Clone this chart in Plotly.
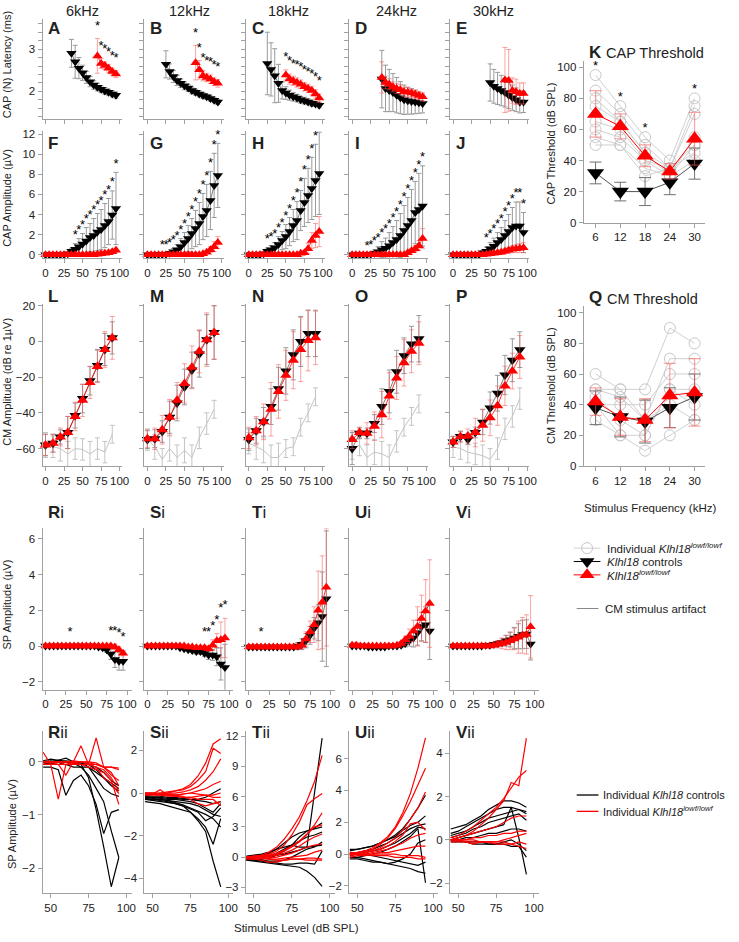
import plotly.graph_objects as go

W, H = 739, 942

# ---------------- data ----------------
LEVELS_5 = list(range(0, 100, 5))
LEVELS_10 = list(range(0, 100, 10))
LEVELS_IND = list(range(45, 100, 5))
FREQS = [6, 12, 18, 24, 30]
FREQ_LABELS = ["6kHz", "12kHz", "18kHz", "24kHz", "30kHz"]
LEVEL_TICKS = [0, 25, 50, 75, 100]
IND_TICKS = [50, 75, 100]
LAT_MAJOR = [2, 3]
LAT_MINOR = [1.4, 1.6, 1.8, 2.2, 2.4, 2.6, 2.8, 3.2, 3.4, 3.6]

# Row 1: CAP (N) latency, ms (each series ends at 95 dB, 5 dB steps)
LAT_CTRL = [
    [2.90, 2.70, 2.55, 2.44, 2.33, 2.23, 2.15, 2.10, 2.05, 2.01, 1.98, 1.94, 1.91],
    [2.64, 2.47, 2.35, 2.26, 2.19, 2.13, 2.08, 2.02, 1.98, 1.94, 1.90, 1.87, 1.83, 1.79, 1.75],
    [2.66, 2.52, 2.37, 2.19, 2.02, 1.96, 1.91, 1.87, 1.84, 1.80, 1.78, 1.75, 1.72, 1.70, 1.67],
    [2.29, 2.07, 2.02, 1.97, 1.91, 1.85, 1.80, 1.78, 1.76, 1.75, 1.73, 1.71],
    [2.21, 2.12, 2.07, 2.02, 1.97, 1.91, 1.85, 1.80, 1.75, 1.75],
]
LAT_CTRL_ERR = [
    [0.33, 0.39, 0.25, 0.18, 0.14, 0.12, 0.10, 0.09, 0.08, 0.08, 0.07, 0.07, 0.07],
    [0.32, 0.18, 0.14, 0.12, 0.10, 0.09, 0.08, 0.08, 0.07, 0.07, 0.07, 0.06, 0.06, 0.06, 0.06],
    [0.74, 0.63, 0.64, 0.45, 0.20, 0.15, 0.12, 0.10, 0.09, 0.08, 0.08, 0.07, 0.07, 0.06, 0.06],
    [0.68, 0.55, 0.50, 0.45, 0.42, 0.38, 0.35, 0.32, 0.30, 0.28, 0.25, 0.22],
    [0.44, 0.40, 0.38, 0.36, 0.34, 0.32, 0.30, 0.28, 0.26, 0.25],
]
LAT_LOWF = [
    [2.84, 2.66, 2.61, 2.55, 2.47, 2.41],
    [2.68, 2.51, 2.37, 2.33, 2.29, 2.23, 2.19],
    [2.39, 2.29, 2.25, 2.21, 2.17, 2.11, 2.07, 2.02, 1.94, 1.84],
    [2.33, 2.21, 2.17, 2.11, 2.07, 2.04, 1.99, 1.98, 1.96, 1.93, 1.90, 1.87],
    [2.27, 2.26, 2.02, 1.99, 1.95, 1.95],
]
LAT_LOWF_ERR = [
    [0.41, 0.12, 0.09, 0.09, 0.08, 0.08],
    [0.41, 0.22, 0.12, 0.10, 0.10, 0.09, 0.09],
    [0.12, 0.12, 0.11, 0.11, 0.10, 0.10, 0.10, 0.10, 0.10, 0.10],
    [0.37, 0.15, 0.13, 0.12, 0.12, 0.12, 0.11, 0.11, 0.10, 0.10, 0.10, 0.10],
    [0.77, 0.73, 0.30, 0.30, 0.25, 0.25],
]
LAT_STARS = [
    [70, 75, 80, 85, 90, 95],
    [65, 70, 75, 80, 85, 90, 95],
    [50, 55, 60, 65, 70, 75, 80, 85, 90, 95],
    [],
    [],
]

# Row 2: CAP amplitude, uV (0..95 dB)
AMP_CTRL = [
    [0, 0, 0, 0, 0, 0, 0.1, 0.35, 0.55, 0.8, 1.05, 1.35, 1.7, 1.9, 2.25, 2.5, 2.9, 3.3, 3.95, 4.6],
    [0, 0, 0, 0, 0.02, 0.05, 0.15, 0.3, 0.5, 0.8, 1.2, 1.6, 2.1, 2.6, 3.1, 3.8, 4.4, 5.4, 6.9, 7.9],
    [0, 0, 0, 0, 0.1, 0.35, 0.5, 0.7, 1.0, 1.4, 1.8, 2.3, 2.9, 3.4, 4.4, 5.2, 5.9, 6.6, 7.4, 8.1],
    [0, 0, 0, 0, 0, 0.05, 0.15, 0.3, 0.5, 0.65, 0.9, 1.2, 1.5, 1.9, 2.4, 2.9, 3.4, 4.2, 4.5, 4.85],
    [0, 0, 0, 0, 0, 0, 0, 0, 0.2, 0.35, 0.6, 0.85, 1.2, 1.5, 1.9, 2.3, 2.7, 2.85, 2.85, 2.2],
]
AMP_CTRL_ERR = [
    [0, 0, 0, 0, 0, 0, 0.1, 0.25, 0.55, 0.8, 1.05, 1.35, 1.4, 1.7, 1.85, 2.0, 2.2, 2.3, 2.4, 3.6],
    [0, 0, 0, 0, 0.05, 0.08, 0.15, 0.3, 0.5, 0.8, 1.0, 1.3, 1.5, 1.8, 2.1, 2.3, 2.6, 2.9, 3.2, 3.2],
    [0, 0, 0, 0, 0.1, 0.3, 0.4, 0.5, 0.8, 0.9, 1.2, 1.4, 1.6, 1.9, 2.0, 2.4, 2.7, 3.1, 3.6, 4.1],
    [0, 0, 0, 0, 0, 0.05, 0.3, 0.5, 0.8, 1.0, 1.3, 1.6, 1.9, 2.2, 2.5, 2.8, 3.1, 3.1, 3.6, 4.0],
    [0, 0, 0, 0, 0, 0, 0, 0, 0.2, 0.4, 0.6, 0.8, 1.0, 1.2, 1.5, 1.7, 2.0, 2.4, 2.4, 2.0],
]
AMP_LOWF = [
    [0, 0, 0, 0, 0, 0, 0, 0, 0, 0, 0, 0, 0, 0, 0.05, 0.1, 0.15, 0.2, 0.3, 0.45],
    [0, 0, 0, 0, 0, 0, 0, 0, 0, 0, 0, 0, 0, 0, 0, 0.1, 0.25, 0.5, 0.8, 1.2],
    [0, 0, 0, 0, 0, 0, 0, 0, 0, 0, 0, 0, 0, 0, 0.15, 0.2, 0.6, 1.4, 1.9, 2.3],
    [0, 0, 0, 0, 0, 0, 0, 0, 0, 0, 0, 0, 0, 0, 0, 0.2, 0.4, 0.6, 0.9, 1.6],
    [0, 0, 0, 0, 0, 0, 0, 0, 0, 0.05, 0.1, 0.15, 0.2, 0.25, 0.35, 0.45, 0.55, 0.6, 0.65, 0.7],
]
AMP_LOWF_ERR = [
    [0.05] * 14 + [0.08, 0.1, 0.1, 0.12, 0.15, 0.2],
    [0.03] * 15 + [0.1, 0.15, 0.3, 0.5, 0.6],
    [0.03] * 14 + [0.1, 0.2, 0.5, 0.8, 1.2, 1.5],
    [0.03] * 15 + [0.15, 0.2, 0.3, 0.5, 1.0],
    [0.02] * 9 + [0.05, 0.08, 0.1, 0.15, 0.2, 0.25, 0.3, 0.35, 0.4, 0.45, 0.5],
]
AMP_STARS = [
    list(range(40, 100, 5)),
    list(range(20, 100, 5)),
    list(range(25, 100, 5)),
    list(range(20, 100, 5)),
    list(range(45, 100, 5)),
]

# Row 3: CM amplitude, dB re 1 uV (0..90 dB, 10 dB steps)
CM_CTRL = [
    [-58, -57, -53.5, -51, -41.5, -32, -22, -13.5, -4.5, 2],
    [-55, -54.5, -50.5, -42.5, -34.5, -25.5, -16, -7, 1, 5],
    [-55, -50, -45, -36.5, -26.5, -16.5, -7.5, 0, 4.5, 4.5],
    [-60, -51.5, -51.5, -46, -36.5, -28, -17, -8, -1.5, 1.5],
    [-56.3, -53.3, -54.8, -51, -45.2, -37.3, -29, -18.8, -10.5, -4.6],
]
CM_CTRL_ERR = [
    [6, 5, 4, 9, 7, 8, 8, 9, 9, 9],
    [5, 5, 6, 9, 10, 10, 10, 13, 14, 15],
    [6, 7, 8, 10, 12, 13, 14, 14, 13, 13],
    [9, 3, 3, 5, 10, 12, 12, 10, 10, 13],
    [3, 3, 3, 3, 7, 9, 10, 11, 12, 10],
]
CM_LOWF = [
    [-58, -57, -53.5, -51, -42, -33, -23, -14, -4.5, 2],
    [-54.5, -54.5, -49.5, -42.5, -33, -23.5, -14.5, -5.5, 1, 5],
    [-54, -50, -45, -38, -28, -19, -10.5, -4.5, 0.5, 2],
    [-55, -51, -51.5, -47.5, -41, -30.5, -20.5, -12, -5.5, -1],
    [-56.3, -53.3, -53, -51, -46.9, -42.8, -36, -24.9, -16.6, -8.7],
]
CM_LOWF_ERR = [
    [6, 5, 5, 9, 8, 9, 9, 9, 10, 12],
    [5, 6, 8, 10, 10, 11, 12, 12, 15, 15],
    [6, 8, 10, 15, 15, 14, 16, 18, 17, 15],
    [5, 3, 6, 8, 13, 13, 12, 13, 12, 12],
    [3, 3, 4, 8, 9, 10, 11, 11, 10, 12],
]
CM_ART = [
    [-58, -59, -60, -63, -60, -60.5, -63, -60, -62, -52],
    [-55, -59, -66, -60, -65, -61, -65, -54, -46, -38],
    [-57, -59, -61, -65, -65, -60, -59, -48, -40, -31],
    [-60, -58, -65, -62, -63, -65, -56, -48, -42, -35],
    [-59, -60, -62, -63, -64, -66, -60, -49, -42, -32],
]
CM_ART_ERR = [
    [7, 6, 7, 7, 6, 6, 7, 6, 6, 5],
    [6, 7, 6, 7, 7, 7, 7, 6, 6, 5],
    [6, 7, 7, 7, 8, 5, 5, 5, 5, 5],
    [6, 6, 7, 7, 7, 7, 6, 5, 5, 5],
    [6, 6, 6, 6, 6, 6, 6, 6, 6, 6],
]

# Row 4: SP amplitude, uV (0..95 dB)
SP_CTRL = [
    [0] * 13 + [-0.05, -0.1, -0.2, -0.45, -0.75, -0.85, -0.85],
    [0] * 8 + [-0.1, -0.15, -0.2, -0.25, -0.3, -0.3, -0.4, -0.5, -0.5, -0.6, -1.0, -1.2],
    [-0.05] * 12 + [0.0, 0.1, 0.3, 0.6, 1.0, 1.3, 1.65, 2.65],
    [0, 0, 0, 0, -0.05, -0.05, -0.05, -0.05, -0.05, 0, 0, 0, 0.05, 0.15, 0.3, 0.45, 0.75, 1.1, 1.2, 0.85],
    [0] * 8 + [0.05, 0.05, 0.1, 0.15, 0.2, 0.3, 0.35, 0.45, 0.55, 0.65, 0.67, 0.12],
]
SP_CTRL_ERR = [
    [0.05] * 13 + [0.05, 0.1, 0.15, 0.3, 0.45, 0.5, 0.5],
    [0.03] * 8 + [0.05, 0.05, 0.1, 0.1, 0.15, 0.15, 0.2, 0.25, 0.3, 0.5, 0.9, 1.3],
    [0.05] * 12 + [0.2, 0.3, 0.4, 0.5, 0.6, 1.0, 2.5, 3.8],
    [0.05] * 12 + [0.1, 0.2, 0.3, 0.5, 0.7, 0.8, 1.0, 1.6],
    [0.03] * 8 + [0.05, 0.1, 0.1, 0.15, 0.2, 0.3, 0.4, 0.6, 0.7, 0.8, 0.8, 0.9],
]
SP_LOWF = [
    [0] * 17 + [-0.05, -0.2, -0.4],
    [0] * 10 + [-0.05, -0.05, -0.1, -0.1, -0.1, -0.15, 0.05, 0.3, 0.35, 0.45],
    [-0.05] * 13 + [0.05, 0.4, 0.8, 1.2, 2.0, 2.45, 3.3],
    [0.05, 0.05] + [0] * 9 + [0.05, 0.15, 0.35, 0.55, 0.85, 1.1, 1.55, 1.97, 2.38],
    [0] * 10 + [0.05, 0.1, 0.15, 0.2, 0.3, 0.4, 0.5, 0.6, 0.65, 1.08],
]
SP_LOWF_ERR = [
    [0.05] * 10 + [0.15] + [0.05] * 5 + [0.1, 0.15, 0.15, 0.15],
    [0.05] * 10 + [0.05, 0.05, 0.1, 0.1, 0.1, 0.15, 0.3, 0.4, 1.0, 1.1],
    [0.05] * 13 + [0.2, 0.4, 0.6, 1.0, 2.2, 2.6, 3.3],
    [0.1, 0.15] + [0.05] * 10 + [0.1, 0.2, 0.4, 0.6, 1.1, 1.3, 1.75, 2.45],
    [0.03] * 10 + [0.1, 0.2, 0.3, 0.4, 0.5, 0.6, 0.9, 1.0, 1.1, 1.75],
]
SP_STARS = [
    [30, 80, 85, 90, 95],
    [70, 75, 80, 85, 90, 95],
    [15],
    [],
    [],
]

# Row 5: individual SP traces, uV (45..95 dB)
IND_CTRL = [
    [
        [-0.05, 0.0, 0.02, 0.0, 0.0, -0.05, -0.3, -0.9, -1.6, -2.35, -1.8],
        [-0.1, -0.1, -0.15, -0.63, -0.35, -0.25, -0.45, -0.8, -1.35, -0.95, -0.9],
        [0.0, 0.0, 0.03, 0.0, -0.02, -0.1, -0.25, -0.5, -0.75, -1.3, -1.8],
        [0.02, 0.05, 0.03, 0.07, 0.0, 0.0, -0.1, -0.3, -0.5, -0.6, -0.65],
        [0.0, 0.02, 0.0, 0.02, 0.0, -0.02, -0.05, -0.15, -0.3, -0.45, -0.55],
        [-0.05, -0.03, -0.05, -0.05, -0.1, -0.1, -0.1, -0.2, -0.3, -0.4, -0.5],
        [0.0, -0.05, -0.05, 0.0, 0.0, 0.0, -0.05, -0.1, -0.2, -0.35, -0.45],
    ],
    [
        [-0.4, -0.45, -0.5, -0.6, -0.7, -0.8, -0.9, -1.2, -1.6, -2.4, -1.2],
        [-0.3, -0.35, -0.4, -0.45, -0.5, -0.6, -0.9, -1.3, -1.8, -3.2, -4.4],
        [-0.2, -0.25, -0.3, -0.35, -0.45, -0.55, -0.7, -0.85, -1.0, -1.2, -1.6],
        [-0.25, -0.3, -0.3, -0.35, -0.4, -0.45, -0.5, -0.6, -0.8, -1.0, -1.1],
        [-0.1, -0.15, -0.15, -0.2, -0.2, -0.25, -0.3, -0.35, -0.4, -0.5, -0.4],
        [-0.15, -0.2, -0.2, -0.25, -0.25, -0.3, -0.3, -0.3, -0.2, 0.0, 0.2],
        [-0.3, -0.3, -0.35, -0.4, -0.5, -0.6, -0.75, -0.9, -1.3, -1.1, -0.7],
        [-0.2, -0.2, -0.25, -0.3, -0.3, -0.35, -0.4, -0.5, -0.7, -0.9, -0.5],
    ],
    [
        [-0.2, -0.1, 0.0, 0.1, 0.2, 0.3, 0.5, 0.7, 1.0, 6.4, 11.8],
        [-0.3, -0.3, -0.2, -0.1, 0.2, 0.6, 1.2, 2.0, 2.6, 2.9, 3.4],
        [0.0, 0.1, 0.2, 0.4, 0.8, 1.4, 2.0, 2.4, 2.6, 2.8, 3.0],
        [-0.1, -0.1, 0.0, 0.1, 0.4, 0.8, 1.2, 1.6, 2.0, 2.2, 2.5],
        [-0.2, -0.2, -0.3, -0.4, -0.4, -0.3, 0.0, 0.4, 0.8, 1.0, 1.5],
        [-0.3, -0.4, -0.5, -0.6, -0.7, -0.8, -0.9, -1.0, -1.4, -2.0, -2.9],
        [-0.2, -0.3, -0.4, -0.5, -0.6, -0.7, -0.7, -0.6, -0.6, -0.7, 0.6],
        [0.1, 0.2, 0.3, 0.5, 0.8, 1.0, 1.2, 1.0, 1.0, 1.1, 1.2],
    ],
    [
        [0.2, 0.3, 0.4, 0.5, 0.7, 0.9, 1.2, 1.6, 2.2, 2.9, 3.7],
        [0.3, 0.3, 0.4, 0.5, 0.7, 0.9, 1.1, 1.5, 1.8, 2.0, 2.4],
        [0.0, 0.1, 0.2, 0.3, 0.5, 0.7, 1.0, 1.3, 1.6, 1.8, 1.9],
        [-0.1, 0.0, 0.1, 0.2, 0.3, 0.5, 0.7, 1.0, 1.3, 1.7, 1.6],
        [-0.2, -0.2, -0.1, 0.0, 0.1, 0.3, 0.5, 0.8, 1.1, 1.6, -1.8],
        [-0.3, -0.3, -0.4, -0.5, -0.5, -0.6, -0.5, -0.3, 0.0, 0.7, 0.9],
        [-0.2, -0.2, -0.3, -0.4, -0.5, -0.6, -0.7, -0.8, -0.9, -1.1, -1.2],
        [0.0, 0.0, 0.0, -0.1, -0.2, -0.3, -0.4, -0.5, -0.6, -0.7, -0.5],
    ],
    [
        [0.5, 0.6, 0.7, 0.9, 1.1, 1.4, 1.6, 1.8, 1.8, 1.7, 1.5],
        [0.3, 0.4, 0.6, 0.8, 1.0, 1.2, 1.4, 1.5, 1.5, 1.4, 1.2],
        [0.2, 0.3, 0.4, 0.6, 0.8, 1.0, 1.1, 1.2, 1.3, 1.4, 1.3],
        [0.1, 0.2, 0.3, 0.5, 0.6, 0.8, 0.9, 1.0, 1.1, 1.2, 0.9],
        [0.0, 0.1, 0.2, 0.3, 0.4, 0.5, 0.6, 0.7, 1.5, 0.1, -1.6],
        [0.0, 0.0, 0.1, 0.1, 0.2, 0.3, 0.3, 0.4, 0.5, 0.5, 0.4],
        [0.0, 0.0, -0.1, -0.1, -0.1, -0.2, -0.2, -0.1, 0.0, -0.2, -0.5],
        [-0.1, -0.1, -0.1, -0.2, -0.2, -0.2, -0.2, -0.2, -0.3, -0.3, -0.8],
    ],
]
IND_LOWF = [
    [
        [0.18, -0.05, -0.7, -0.05, 0.0, 0.3, -0.05, 0.45, -0.1, -0.1, -0.15],
        [0.0, 0.0, -0.05, -0.25, 0.0, -0.05, -0.05, -0.1, -0.15, -0.3, -0.55],
        [-0.05, -0.05, -0.05, -0.05, -0.05, -0.05, -0.1, -0.15, -0.2, -0.35, -0.8],
        [0.0, 0.0, 0.0, 0.0, 0.0, 0.0, -0.02, -0.05, -0.1, -0.2, -0.45],
        [-0.02, -0.02, 0.0, -0.05, -0.02, -0.05, -0.05, -0.05, -0.1, -0.1, -0.12],
        [0.0, 0.0, 0.0, 0.0, 0.02, 0.0, 0.0, -0.02, -0.1, -0.25, -0.35],
        [0.0, -0.02, 0.0, 0.0, 0.0, 0.0, -0.05, -0.1, -0.3, -0.4, -0.6],
    ],
    [
        [0.0, 0.0, 0.0, 0.05, 0.1, 0.2, 0.4, 0.8, 1.4, 2.3, 2.55],
        [-0.05, -0.05, 0.0, 0.0, 0.1, 0.15, 0.3, 0.6, 1.0, 2.1, 1.85],
        [-0.1, -0.05, -0.05, 0.0, 0.0, 0.05, 0.15, 0.3, 0.6, 1.0, 1.6],
        [0.0, -0.05, 0.15, -0.1, -0.1, -0.05, 0.0, 0.1, 0.2, 0.4, 0.55],
        [-0.05, -0.05, -0.1, -0.1, -0.15, -0.2, -0.2, -0.15, -0.1, -0.1, 0.0],
        [0.0, 0.0, -0.05, -0.05, -0.1, -0.15, -0.3, -0.5, -0.6, -0.5, -0.4],
        [-0.1, -0.1, -0.1, -0.15, -0.15, -0.2, -0.2, -0.3, -0.3, -0.3, -0.6],
        [0.0, 0.0, -0.05, -0.1, -0.1, -0.05, 0.0, -0.05, -0.1, -0.2, -0.2],
    ],
    [
        [0.0, 0.1, 0.2, 0.5, 1.0, 1.8, 2.8, 4.0, 5.6, 7.5, 10.1],
        [0.0, 0.1, 0.1, 0.3, 0.6, 1.2, 2.2, 3.5, 5.2, 5.8, 6.3],
        [-0.1, 0.0, 0.1, 0.2, 0.4, 0.7, 1.1, 1.6, 2.3, 3.2, 4.4],
        [0.0, 0.0, 0.0, 0.1, 0.3, 0.6, 1.0, 1.5, 2.2, 3.0, 3.2],
        [-0.1, -0.1, 0.0, 0.0, 0.2, 0.4, 0.7, 1.1, 1.6, 2.0, 2.3],
        [0.0, 0.0, -0.1, -0.1, 0.0, 0.2, 0.4, 0.7, 1.0, 1.2, 1.3],
        [0.0, -0.1, -0.1, -0.2, -0.2, -0.1, 0.0, 0.1, 0.2, 0.5, 0.7],
        [0.0, 0.0, -0.1, -0.2, -0.3, -0.3, -0.2, -0.2, -0.3, -0.3, -0.3],
        [-0.2, -0.2, -0.3, -0.5, -0.5, -0.3, -0.2, -0.2, -0.1, -0.1, -0.2],
    ],
    [
        [0.0, 0.1, 0.2, 0.4, 0.7, 1.1, 1.7, 2.6, 3.8, 5.4, 7.3],
        [0.1, 0.1, 0.2, 0.3, 0.6, 1.0, 1.6, 2.4, 3.3, 4.3, 5.4],
        [0.0, 0.0, 0.1, 0.2, 0.4, 0.7, 1.0, 1.5, 2.2, 2.9, 3.9],
        [0.0, 0.0, 0.1, 0.2, 0.3, 0.5, 0.8, 1.2, 1.9, 2.0, 1.5],
        [-0.1, 0.0, 0.0, 0.1, 0.2, 0.3, 0.5, 0.7, 1.0, 1.2, 1.3],
        [0.0, 0.0, 0.0, 0.0, 0.1, 0.1, 0.2, 0.3, 0.4, 0.5, 0.5],
        [-0.2, -0.1, -0.1, 0.0, 0.0, 0.0, 0.0, -0.1, -0.1, -0.1, -0.2],
        [0.1, 0.0, 0.0, -0.1, -0.1, -0.1, -0.2, -0.2, -0.2, -0.3, -0.3],
    ],
    [
        [0.0, 0.1, 0.2, 0.4, 0.7, 1.0, 1.4, 1.8, 2.65, 2.5, 4.7],
        [0.1, 0.2, 0.4, 0.6, 0.9, 1.2, 1.5, 1.9, 2.4, 2.9, 3.2],
        [0.0, 0.1, 0.2, 0.3, 0.4, 0.5, 0.6, 0.8, 1.0, 1.1, 1.1],
        [0.0, 0.0, 0.0, 0.1, 0.1, 0.2, 0.2, 0.3, 0.3, 0.4, 0.4],
        [0.0, 0.0, -0.1, -0.1, -0.1, -0.1, -0.1, 0.0, 0.1, 0.2, 0.3],
        [0.0, 0.0, 0.0, 0.0, -0.1, -0.1, -0.2, -0.2, -0.2, -0.1, -0.2],
        [-0.1, -0.1, -0.1, -0.2, -0.1, -0.1, -0.1, -0.1, -0.2, -0.3, -0.4],
    ],
]

# K: CAP threshold (dB SPL)
CAPT_CTRL = [32, 20, 20, 26, 38]
CAPT_CTRL_ERR = [7, 6, 9, 8, 10]
CAPT_LOWF = [70, 62, 43, 33, 54]
CAPT_LOWF_ERR = [15, 8, 7, 5, 17]
CAPT_IND = [
    [95, 75, 55, 40, 80],
    [85, 70, 50, 35, 75],
    [80, 65, 45, 35, 70],
    [75, 65, 45, 30, 55],
    [65, 60, 40, 30, 50],
    [60, 55, 40, 35, 45],
    [55, 50, 35, 30, 40],
    [50, 50, 30, 35, 50],
]
CAPT_STARS = [6, 12, 18, 30]

# Q: CM threshold (dB SPL)
CMT_CTRL = [38, 32, 29, 38, 45]
CMT_CTRL_ERR = [11, 13, 14, 13, 15]
CMT_LOWF = [42, 32, 30, 46, 48]
CMT_LOWF_ERR = [9, 12, 14, 21, 22]
CMT_IND = [
    [60, 50, 50, 90, 80],
    [50, 45, 30, 70, 70],
    [40, 40, 40, 60, 60],
    [45, 30, 20, 50, 50],
    [30, 20, 10, 20, 30],
    [50, 50, 30, 40, 30],
    [40, 20, 20, 50, 40],
]

# ---------------- styling / geometry ----------------
AX = "#a0a0a0"
TXT = "#222222"
FONT = "Liberation Sans, Arial, sans-serif"
RED = "#ff0000"
RED_ERR = "rgba(245,90,90,0.55)"
CTRL_ERR = "#9a9a9a"
GREY = "#c4c4c4"

COL_L = [43, 146, 248.5, 353, 455]
ROW_BOX = [(15, 116), (128, 257), (303, 467), (530, 693), (735, 899)]

traces = []
layout = dict(
    width=W, height=H, margin=dict(l=0, r=0, t=0, b=0),
    paper_bgcolor="white", plot_bgcolor="rgba(0,0,0,0)", showlegend=False,
    font=dict(family=FONT, size=12, color=TXT),
)
annotations = []
n_ax = [0]


def px_x(x):
    return x / W


def px_y(y):
    return 1 - y / H


def new_axes(x0, x1, y0, y1, xr, yr, xt, yt, xlab=True, ylab=True, yminor=None):
    n_ax[0] += 1
    s = "" if n_ax[0] == 1 else str(n_ax[0])
    common = dict(showline=True, linecolor=AX, linewidth=1, ticks="outside", ticklen=4,
                  tickcolor=AX, tickwidth=1, showgrid=False, zeroline=False,
                  tickfont=dict(size=11.5, color=TXT, family=FONT))
    layout["xaxis" + s] = dict(domain=[px_x(x0), px_x(x1)], range=xr, anchor="y" + s,
                               tickmode="array", tickvals=xt, showticklabels=xlab, **common)
    ya = dict(domain=[px_y(y1), px_y(y0)], range=yr, anchor="x" + s,
              tickmode="array", tickvals=yt, showticklabels=ylab, **common)
    if yminor is not None:
        ya["minor"] = dict(tickmode="array", tickvals=yminor, ticks="outside", ticklen=4,
                           tickcolor=AX, tickwidth=1, showgrid=False)
    layout["yaxis" + s] = ya
    return "x" + s, "y" + s


def mean_series(xa, ya, x, y, e, kind, size, lw=0.8):
    if kind == "ctrl":
        col, sym, ec, lc = "#000000", "triangle-down", CTRL_ERR, "#555555"
    else:
        col, sym, ec, lc = RED, "triangle-up", RED_ERR, RED
    traces.append(go.Scatter(
        x=x, y=y, xaxis=xa, yaxis=ya, mode="lines+markers",
        line=dict(color=lc, width=lw),
        marker=dict(symbol=sym, size=size, color=col, line=dict(width=0)),
        error_y=dict(type="data", array=e, color=ec, thickness=1, width=2.5),
        cliponaxis=False,
    ))


def stars(xa, ya, levels, series_list, offset, size=13):
    tops = {}
    for xs, ys, es in series_list:
        for xv, yv, ev in zip(xs, ys, es):
            t = yv + ev
            tops[xv] = max(tops.get(xv, -1e9), t)
    sx = [lv for lv in levels if lv in tops]
    sy = [tops[lv] + offset for lv in sx]
    if sx:
        traces.append(go.Scatter(x=sx, y=sy, xaxis=xa, yaxis=ya, mode="text", text=["*"] * len(sx),
                                 textfont=dict(size=size, color="#000", family=FONT),
                                 cliponaxis=False))


def text(x, y, s, size=12, anchor="center", angle=0, color=TXT):
    annotations.append(dict(x=px_x(x), y=px_y(y), xref="paper", yref="paper", text=s,
                            showarrow=False, xanchor=anchor, yanchor="middle", textangle=angle,
                            font=dict(size=size, family=FONT, color=color)))


# ---------------- rows 1-4 ----------------
ROW_LETTERS = [["A", "B", "C", "D", "E"], ["F", "G", "H", "I", "J"], ["L", "M", "N", "O", "P"],
               ["<b>R</b>i", "<b>S</b>i", "<b>T</b>i", "<b>U</b>i", "<b>V</b>i"],
               ["<b>R</b>ii", "<b>S</b>ii", "<b>T</b>ii", "<b>U</b>ii", "<b>V</b>ii"]]
LETTER_Y = [25, 141, 296, 514, 736]
HEAD_X = [83, 192, 292, 401, 499]

for c in range(5):
    L = COL_L[c]
    # Row 1 latency
    t, b = ROW_BOX[0]
    xa, ya = new_axes(L, L + 80, t, b, [-4, 102.7], [1.351, 3.717], LEVEL_TICKS, LAT_MAJOR,
                      xlab=False, ylab=(c == 0), yminor=LAT_MINOR)
    xc = LEVELS_5[len(LEVELS_5) - len(LAT_CTRL[c]):]
    xl = LEVELS_5[len(LEVELS_5) - len(LAT_LOWF[c]):]
    mean_series(xa, ya, xc, LAT_CTRL[c], LAT_CTRL_ERR[c], "ctrl", 9)
    mean_series(xa, ya, xl, LAT_LOWF[c], LAT_LOWF_ERR[c], "lowf", 9)
    stars(xa, ya, LAT_STARS[c], [(xc, LAT_CTRL[c], LAT_CTRL_ERR[c]), (xl, LAT_LOWF[c], LAT_LOWF_ERR[c])], 0.28)

    # Row 2 amplitude
    t, b = ROW_BOX[1]
    xa, ya = new_axes(L, L + 80, t, b, [-4, 102.7], [-0.36, 12.36], LEVEL_TICKS, list(range(0, 13, 2)),
                      xlab=True, ylab=(c == 0))
    mean_series(xa, ya, LEVELS_5, AMP_CTRL[c], AMP_CTRL_ERR[c], "ctrl", 9)
    mean_series(xa, ya, LEVELS_5, AMP_LOWF[c], AMP_LOWF_ERR[c], "lowf", 9)
    stars(xa, ya, AMP_STARS[c], [(LEVELS_5, AMP_CTRL[c], AMP_CTRL_ERR[c]), (LEVELS_5, AMP_LOWF[c], AMP_LOWF_ERR[c])], 0.8)

    # Row 3 CM
    t, b = ROW_BOX[2]
    xa, ya = new_axes(L, L + 80, t, b, [-4, 102.7], [-69.8, 21.1], LEVEL_TICKS, [-60, -40, -20, 0, 20],
                      xlab=True, ylab=(c == 0))
    traces.append(go.Scatter(x=LEVELS_10, y=CM_ART[c], xaxis=xa, yaxis=ya, mode="lines",
                             line=dict(color=GREY, width=1),
                             error_y=dict(type="data", array=CM_ART_ERR[c], color=GREY, thickness=1, width=2.5),
                             cliponaxis=True))
    mean_series(xa, ya, LEVELS_10, CM_CTRL[c], CM_CTRL_ERR[c], "ctrl", 10)
    mean_series(xa, ya, LEVELS_10, CM_LOWF[c], CM_LOWF_ERR[c], "lowf", 10)

    # Row 4 SP
    t, b = ROW_BOX[3]
    xa, ya = new_axes(L, L + 90, t, b, [-3.6, 105.4], [-2.44, 6.59], LEVEL_TICKS, [-2, 0, 2, 4, 6],
                      xlab=True, ylab=(c == 0))
    mean_series(xa, ya, LEVELS_5, SP_CTRL[c], SP_CTRL_ERR[c], "ctrl", 9)
    mean_series(xa, ya, LEVELS_5, SP_LOWF[c], SP_LOWF_ERR[c], "lowf", 9)
    stars(xa, ya, SP_STARS[c], [(LEVELS_5, SP_CTRL[c], SP_CTRL_ERR[c]), (LEVELS_5, SP_LOWF[c], SP_LOWF_ERR[c])], 0.72)

    # headers and letters
    text(HEAD_X[c], 7, FREQ_LABELS[c], size=14.5)
    for r in range(5):
        lab = ROW_LETTERS[r][c]
        if r < 3:
            lab = "<b>" + lab + "</b>"
        text(L + 4, LETTER_Y[r], lab, size=17, anchor="left")

# ---------------- row 5 ----------------
IND_YR = [[-2.476, 0.576], [-4.71, 2.9], [-3.6, 12.49], [-2.47, 7.72], [-2.48, 5.02]]
IND_YT = [[-2, -1, 0], [-4, -2, 0, 2], [-3, 0, 3, 6, 9, 12], [-2, 0, 2, 4, 6], [-2, 0, 2, 4]]
for c in range(5):
    L = COL_L[c]
    t, b = ROW_BOX[4]
    xa, ya = new_axes(L, L + 90, t, b, [44.6, 103.4], IND_YR[c], IND_TICKS, IND_YT[c])
    for tr in IND_CTRL[c]:
        traces.append(go.Scatter(x=LEVELS_IND, y=tr, xaxis=xa, yaxis=ya, mode="lines",
                                 line=dict(color="#000000", width=1.2), cliponaxis=True))
    for tr in IND_LOWF[c]:
        traces.append(go.Scatter(x=LEVELS_IND, y=tr, xaxis=xa, yaxis=ya, mode="lines",
                                 line=dict(color=RED, width=1.2), cliponaxis=True))


# ---------------- K and Q ----------------
def threshold_panel(t, b, top, ind, ctrl, ctrl_e, lowf, lowf_e, star_freqs=None):
    xa, ya = new_axes(590, 713, t, b, [3.1, 32.6], [0, top], FREQS, [0, 20, 40, 60, 80, 100])
    for tr in ind:
        traces.append(go.Scatter(x=FREQS, y=tr, xaxis=xa, yaxis=ya, mode="lines+markers",
                                 line=dict(color="#d0d0d0", width=1),
                                 marker=dict(symbol="circle-open", size=11, color="#c8c8c8",
                                             line=dict(width=1, color="#c8c8c8")),
                                 cliponaxis=False))
    traces.append(go.Scatter(x=FREQS, y=ctrl, xaxis=xa, yaxis=ya, mode="lines+markers",
                             line=dict(color="#555555", width=1),
                             marker=dict(symbol="triangle-down", size=15, color="#000"),
                             error_y=dict(type="data", array=ctrl_e, color="#707070", thickness=1, width=6),
                             cliponaxis=False))
    traces.append(go.Scatter(x=FREQS, y=lowf, xaxis=xa, yaxis=ya, mode="lines+markers",
                             line=dict(color=RED, width=1),
                             marker=dict(symbol="triangle-up", size=15, color=RED),
                             error_y=dict(type="data", array=lowf_e, color=RED_ERR, thickness=1.2, width=6),
                             cliponaxis=False))
    if star_freqs:
        tops = [max(v) for v in zip(*ind)]
        sx = list(star_freqs)
        sy = [tops[FREQS.index(f)] + 5.5 for f in sx]
        traces.append(go.Scatter(x=sx, y=sy, xaxis=xa, yaxis=ya, mode="text", text=["*"] * len(sx),
                                 textfont=dict(size=13, color="#000", family=FONT), cliponaxis=False))


threshold_panel(58, 221, 103.8, CAPT_IND, CAPT_CTRL, CAPT_CTRL_ERR, CAPT_LOWF, CAPT_LOWF_ERR, CAPT_STARS)
threshold_panel(305, 467, 104.5, CMT_IND, CMT_CTRL, CMT_CTRL_ERR, CMT_LOWF, CMT_LOWF_ERR)

text(593, 49, "<b>K</b>", size=17, anchor="left")
text(611, 50, "CAP Threshold", size=14.5, anchor="left")
text(593, 297, "<b>Q</b>", size=17, anchor="left")
text(612, 298, "CM Threshold", size=14.5, anchor="left")

# axis titles
text(7, 61, "CAP (N) Latency (ms)", size=11, angle=-90)
text(7, 196, "CAP Amplitude (\u00b5V)", size=11, angle=-90)
text(7, 382, "CM Amplitude (dB re 1\u00b5V)", size=11, angle=-90)
text(7, 607, "SP Amplitude (\u00b5V)", size=11, angle=-90)
text(12, 829, "SP Amplitude (\u00b5V)", size=11, angle=-90)
text(557, 141, "CAP Threshold (dB SPL)", size=11, angle=-90)
text(557, 385, "CM Threshold (dB SPL)", size=11, angle=-90)
text(657, 509, "Stimulus Frequency (kHz)", size=11.5)
text(300, 934, "Stimulus Level (dB SPL)", size=11.5)

# ---------------- legends (overlay axis in pixel units) ----------------
n_ax[0] += 1
s = str(n_ax[0])
layout["xaxis" + s] = dict(domain=[0, 1], range=[0, W], visible=False, anchor="y" + s)
layout["yaxis" + s] = dict(domain=[0, 1], range=[H, 0], visible=False, anchor="x" + s)
LX = [580, 607]
LEG_ROWS = [550, 563.5, 577, 611]
traces.append(go.Scatter(x=LX, y=[LEG_ROWS[0]] * 2, xaxis="x" + s, yaxis="y" + s, mode="lines",
                         line=dict(color="#d0d0d0", width=1)))
traces.append(go.Scatter(x=[593.5], y=[LEG_ROWS[0]], xaxis="x" + s, yaxis="y" + s, mode="markers",
                         marker=dict(symbol="circle-open", size=11, color="#c8c8c8", line=dict(width=1))))
traces.append(go.Scatter(x=LX, y=[LEG_ROWS[1]] * 2, xaxis="x" + s, yaxis="y" + s, mode="lines",
                         line=dict(color="#000", width=1)))
traces.append(go.Scatter(x=[593.5], y=[LEG_ROWS[1]], xaxis="x" + s, yaxis="y" + s, mode="markers",
                         marker=dict(symbol="triangle-down", size=13, color="#000")))
traces.append(go.Scatter(x=LX, y=[LEG_ROWS[2]] * 2, xaxis="x" + s, yaxis="y" + s, mode="lines",
                         line=dict(color=RED, width=1)))
traces.append(go.Scatter(x=[593.5], y=[LEG_ROWS[2]], xaxis="x" + s, yaxis="y" + s, mode="markers",
                         marker=dict(symbol="triangle-up", size=13, color=RED)))
traces.append(go.Scatter(x=[583, 605], y=[LEG_ROWS[3]] * 2, xaxis="x" + s, yaxis="y" + s, mode="lines",
                         line=dict(color="#888", width=1)))
text(612, LEG_ROWS[0], "Individual <i>Klhl18<sup>lowf/lowf</sup></i>", size=11.5, anchor="left")
text(612, LEG_ROWS[1], "<i>Klhl18</i> controls", size=11.5, anchor="left")
text(612, LEG_ROWS[2], "<i>Klhl18<sup>lowf/lowf</sup></i>", size=11.5, anchor="left")
text(610, LEG_ROWS[3], "CM stimulus artifact", size=11.5, anchor="left")

traces.append(go.Scatter(x=[583, 605], y=[799.5, 799.5], xaxis="x" + s, yaxis="y" + s, mode="lines",
                         line=dict(color="#000", width=1.3)))
traces.append(go.Scatter(x=[583, 605], y=[816, 816], xaxis="x" + s, yaxis="y" + s, mode="lines",
                         line=dict(color=RED, width=1.3)))
text(608, 799.5, "Individual <i>Klhl18</i> controls", size=11, anchor="left")
text(608, 816, "Individual <i>Klhl18<sup>lowf/lowf</sup></i>", size=11, anchor="left")

layout["annotations"] = annotations
fig = go.Figure(data=traces, layout=layout)
fig.write_html(
    "out.html",
    config={"displayModeBar": False},
    post_script=(
        "document.documentElement.style.margin='0px';"
        "document.documentElement.style.padding='0px';"
        "document.documentElement.style.overflow='hidden';"
        "document.body.style.margin='0px';"
        "document.body.style.padding='0px';"
        "document.body.style.overflow='hidden';"
    ),
)
